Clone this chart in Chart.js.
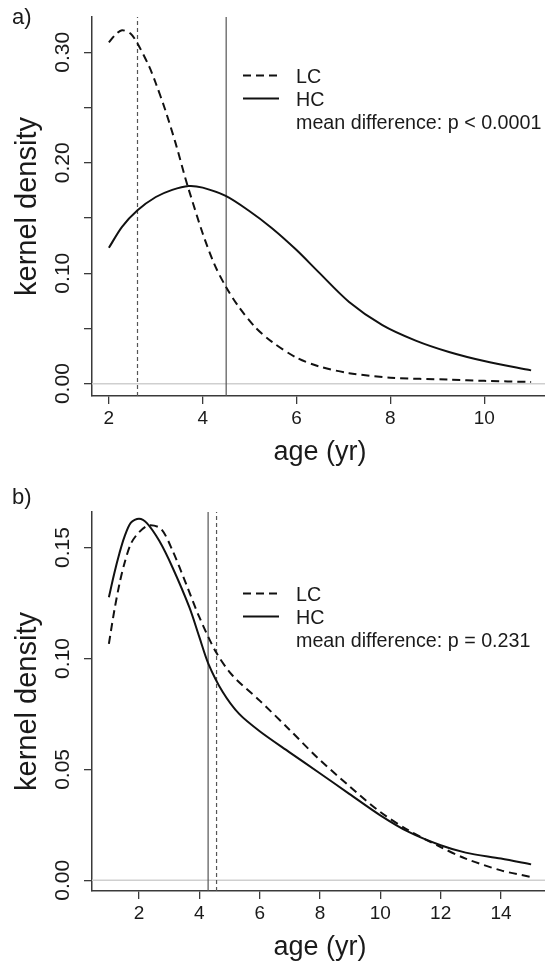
<!DOCTYPE html>
<html lang="en">
<head>
    <meta charset="UTF-8">
    <title>Kernel density of age</title>
    <style>
        html, body {
            margin: 0;
            padding: 0;
            background: #fff;
            overflow: hidden;
        }
        .panel {
            position: absolute;
            left: 0;
            width: 548px;
        }
        #panelA { top: 0; height: 480px; }
        #panelB { top: 480px; height: 481px; }
    </style>
    <script src="https://cdn.jsdelivr.net/npm/chart.js"></script>
</head>
<body>
    <div class="panel" id="panelA"><canvas id="chartA"></canvas></div>
    <div class="panel" id="panelB"><canvas id="chartB"></canvas></div>

    <script>
        // ---- panel a) ----
        const ageA_LC  = [2.00, 2.14, 2.28, 2.46, 2.61, 2.86, 3.00, 3.20, 3.42, 3.63, 3.70, 4.00, 4.25, 4.49, 4.76, 5.12, 5.47, 6.00, 6.47, 7.12, 8.00, 9.25, 10.00, 11.00];
        const densA_LC = [0.309, 0.316, 0.320, 0.317, 0.308, 0.287, 0.272, 0.248, 0.218, 0.186, 0.176, 0.136, 0.108, 0.088, 0.070, 0.051, 0.038, 0.0235, 0.0157, 0.0095, 0.0054, 0.0036, 0.0025, 0.0015];
        const ageA_HC  = [2.00, 2.28, 2.61, 3.00, 3.35, 3.70, 4.00, 4.49, 4.97, 5.47, 6.00, 6.47, 7.12, 7.83, 8.54, 9.25, 10.00, 11.00];
        const densA_HC = [0.123, 0.142, 0.157, 0.169, 0.1755, 0.179, 0.1775, 0.170, 0.157, 0.141, 0.121, 0.101, 0.074, 0.053, 0.039, 0.0287, 0.0205, 0.012];
        const meanA = { LC: 2.61, HC: 4.50 };
        const xRangeA = [1.64, 11.36];
        const yRangeA = [-0.0112, 0.332];
        const xTicksA = [2, 4, 6, 8, 10];
        const yTicksA = [0, 0.05, 0.10, 0.15, 0.20, 0.25, 0.30];
        const yLabelsA = [0, 0.10, 0.20, 0.30];
        const pTextA = 'mean difference: p < 0.0001';

        // ---- panel b) ----
        const ageB_LC  = [1.00, 1.18, 1.35, 1.51, 1.73, 2.00, 2.33, 2.73, 3.11, 3.56, 4.00, 4.55, 5.10, 6.00, 6.98, 7.90, 8.97, 10.00, 10.94, 12.00, 12.83, 14.00, 15.00];
        const densB_LC = [0.1066, 0.1216, 0.1336, 0.1426, 0.1517, 0.1569, 0.1600, 0.1584, 0.1486, 0.1336, 0.1186, 0.1029, 0.0923, 0.0810, 0.0680, 0.0555, 0.0425, 0.0308, 0.0225, 0.0150, 0.0098, 0.0045, 0.0015];
        const ageB_HC  = [1.00, 1.18, 1.35, 1.51, 1.73, 2.00, 2.26, 2.67, 3.11, 3.67, 4.00, 4.30, 4.77, 5.32, 6.00, 6.98, 7.97, 8.97, 10.00, 10.94, 12.00, 12.83, 14.00, 15.00];
        const densB_HC = [0.1276, 0.1384, 0.1474, 0.1546, 0.1612, 0.1630, 0.161, 0.153, 0.141, 0.123, 0.1096, 0.0976, 0.0850, 0.0750, 0.0672, 0.0578, 0.0485, 0.039, 0.0293, 0.0218, 0.0158, 0.0125, 0.0098, 0.0072];
        const meanB = { LC: 4.57, HC: 4.29 };
        const xRangeB = [0.44, 15.56];
        const yRangeB = [-0.0048, 0.166];
        const xTicksB = [2, 4, 6, 8, 10, 12, 14];
        const yTicksB = [0, 0.05, 0.10, 0.15];
        const yLabelsB = [0, 0.05, 0.10, 0.15];
        const pTextB = 'mean difference: p = 0.231';

        const FONT = "'Liberation Sans', Arial, sans-serif";
        const INK = '#1a1a1a';
        const AXIS = '#3a3a3a';

        const zip = (xs, ys) => xs.map((x, i) => ({ x: x, y: ys[i] }));

        // R-like decorations: rotated y labels, axis titles, panel letter, legend
        const rStyle = {
            id: 'rStyle',
            afterDraw(chart, args, o) {
                const ctx = chart.ctx;
                const area = chart.chartArea;
                const ys = chart.scales.y;
                ctx.save();
                ctx.fillStyle = INK;

                // y tick labels, vertical like R
                ctx.font = '21px ' + FONT;
                ctx.textAlign = 'center';
                ctx.textBaseline = 'middle';
                o.yLabels.forEach(v => {
                    ctx.save();
                    ctx.translate(63, ys.getPixelForValue(v));
                    ctx.rotate(-Math.PI / 2);
                    ctx.fillText(v.toFixed(2), 0, 0);
                    ctx.restore();
                });

                // axis titles
                ctx.font = '29px ' + FONT;
                ctx.save();
                ctx.translate(28, (area.top + area.bottom) / 2);
                ctx.rotate(-Math.PI / 2);
                ctx.fillText('kernel density', 0, 0);
                ctx.restore();
                ctx.font = '27px ' + FONT;
                ctx.fillText('age (yr)', (area.left + area.right) / 2, area.bottom + 57);

                // panel letter
                ctx.font = '22px ' + FONT;
                ctx.textAlign = 'left';
                ctx.fillText(o.panel, 12, 18);

                // legend
                ctx.font = '19.7px ' + FONT;
                const rows = o.legendRows;
                ctx.strokeStyle = '#111';
                ctx.lineWidth = 2;
                ctx.setLineDash([8, 5]);
                ctx.beginPath();
                ctx.moveTo(243, rows[0] - 2.5);
                ctx.lineTo(279, rows[0] - 2.5);
                ctx.stroke();
                ctx.setLineDash([]);
                ctx.beginPath();
                ctx.moveTo(243, rows[1] - 2.5);
                ctx.lineTo(279, rows[1] - 2.5);
                ctx.stroke();
                ctx.fillText('LC', 296, rows[0]);
                ctx.fillText('HC', 296, rows[1]);
                ctx.fillText(o.pText, 296, rows[2]);

                ctx.restore();
            }
        };

        function makePanel(canvasId, d) {
            const ctx = document.getElementById(canvasId).getContext('2d');
            return new Chart(ctx, {
                type: 'line',
                data: {
                    datasets: [
                        {
                            label: 'LC',
                            data: zip(d.ageLC, d.densLC),
                            borderColor: '#111',
                            borderWidth: 2,
                            borderDash: [8, 5],
                            pointRadius: 0,
                            tension: 0.3,
                            fill: false
                        },
                        {
                            label: 'HC',
                            data: zip(d.ageHC, d.densHC),
                            borderColor: '#111',
                            borderWidth: 2,
                            pointRadius: 0,
                            tension: 0.3,
                            fill: false
                        },
                        {
                            label: 'mean LC',
                            data: [{ x: d.mean.LC, y: d.yRange[0] }, { x: d.mean.LC, y: d.yRange[1] }],
                            borderColor: '#555',
                            borderWidth: 1.2,
                            borderDash: [4, 3],
                            pointRadius: 0
                        },
                        {
                            label: 'mean HC',
                            data: [{ x: d.mean.HC, y: d.yRange[0] }, { x: d.mean.HC, y: d.yRange[1] }],
                            borderColor: '#555',
                            borderWidth: 1.2,
                            pointRadius: 0
                        },
                        {
                            label: 'zero',
                            data: [{ x: d.xRange[0], y: 0 }, { x: d.xRange[1], y: 0 }],
                            borderColor: '#cfcfcf',
                            borderWidth: 1.5,
                            pointRadius: 0
                        }
                    ]
                },
                options: {
                    responsive: true,
                    maintainAspectRatio: false,
                    animation: false,
                    layout: { padding: { top: d.padTop, right: 0, left: 0, bottom: 0 } },
                    plugins: {
                        legend: { display: false },
                        tooltip: { enabled: false },
                        rStyle: {
                            panel: d.panel,
                            yLabels: d.yLabels,
                            legendRows: d.legendRows,
                            pText: d.pText
                        }
                    },
                    scales: {
                        x: {
                            type: 'linear',
                            min: d.xRange[0],
                            max: d.xRange[1],
                            afterBuildTicks: s => { s.ticks = d.xTicks.map(v => ({ value: v })); },
                            afterFit: s => { s.height = d.xAxisH; },
                            grid: { drawOnChartArea: false, drawTicks: true, tickLength: 8, color: AXIS, lineWidth: 1.3 },
                            border: { display: true, color: AXIS, width: 1.5 },
                            ticks: {
                                color: INK,
                                font: { family: FONT, size: 19 },
                                padding: 3,
                                maxRotation: 0,
                                autoSkip: false,
                                callback: v => String(v)
                            }
                        },
                        y: {
                            type: 'linear',
                            min: d.yRange[0],
                            max: d.yRange[1],
                            afterBuildTicks: s => { s.ticks = d.yTicks.map(v => ({ value: v })); },
                            afterFit: s => { s.width = 92; },
                            grid: { drawOnChartArea: false, drawTicks: true, tickLength: 8, color: AXIS, lineWidth: 1.3 },
                            border: { display: true, color: AXIS, width: 1.5 },
                            ticks: { display: false }
                        }
                    }
                },
                plugins: [rStyle]
            });
        }

        makePanel('chartA', {
            panel: 'a)',
            ageLC: ageA_LC, densLC: densA_LC,
            ageHC: ageA_HC, densHC: densA_HC,
            mean: meanA,
            xRange: xRangeA, yRange: yRangeA,
            xTicks: xTicksA, yTicks: yTicksA, yLabels: yLabelsA,
            pText: pTextA,
            padTop: 17, xAxisH: 84,
            legendRows: [78, 101, 123.5]
        });

        makePanel('chartB', {
            panel: 'b)',
            ageLC: ageB_LC, densLC: densB_LC,
            ageHC: ageB_HC, densHC: densB_HC,
            mean: meanB,
            xRange: xRangeB, yRange: yRangeB,
            xTicks: xTicksB, yTicks: yTicksB, yLabels: yLabelsB,
            pText: pTextB,
            padTop: 32, xAxisH: 70,
            legendRows: [116, 139, 161.7]
        });
    </script>
</body>
</html>
